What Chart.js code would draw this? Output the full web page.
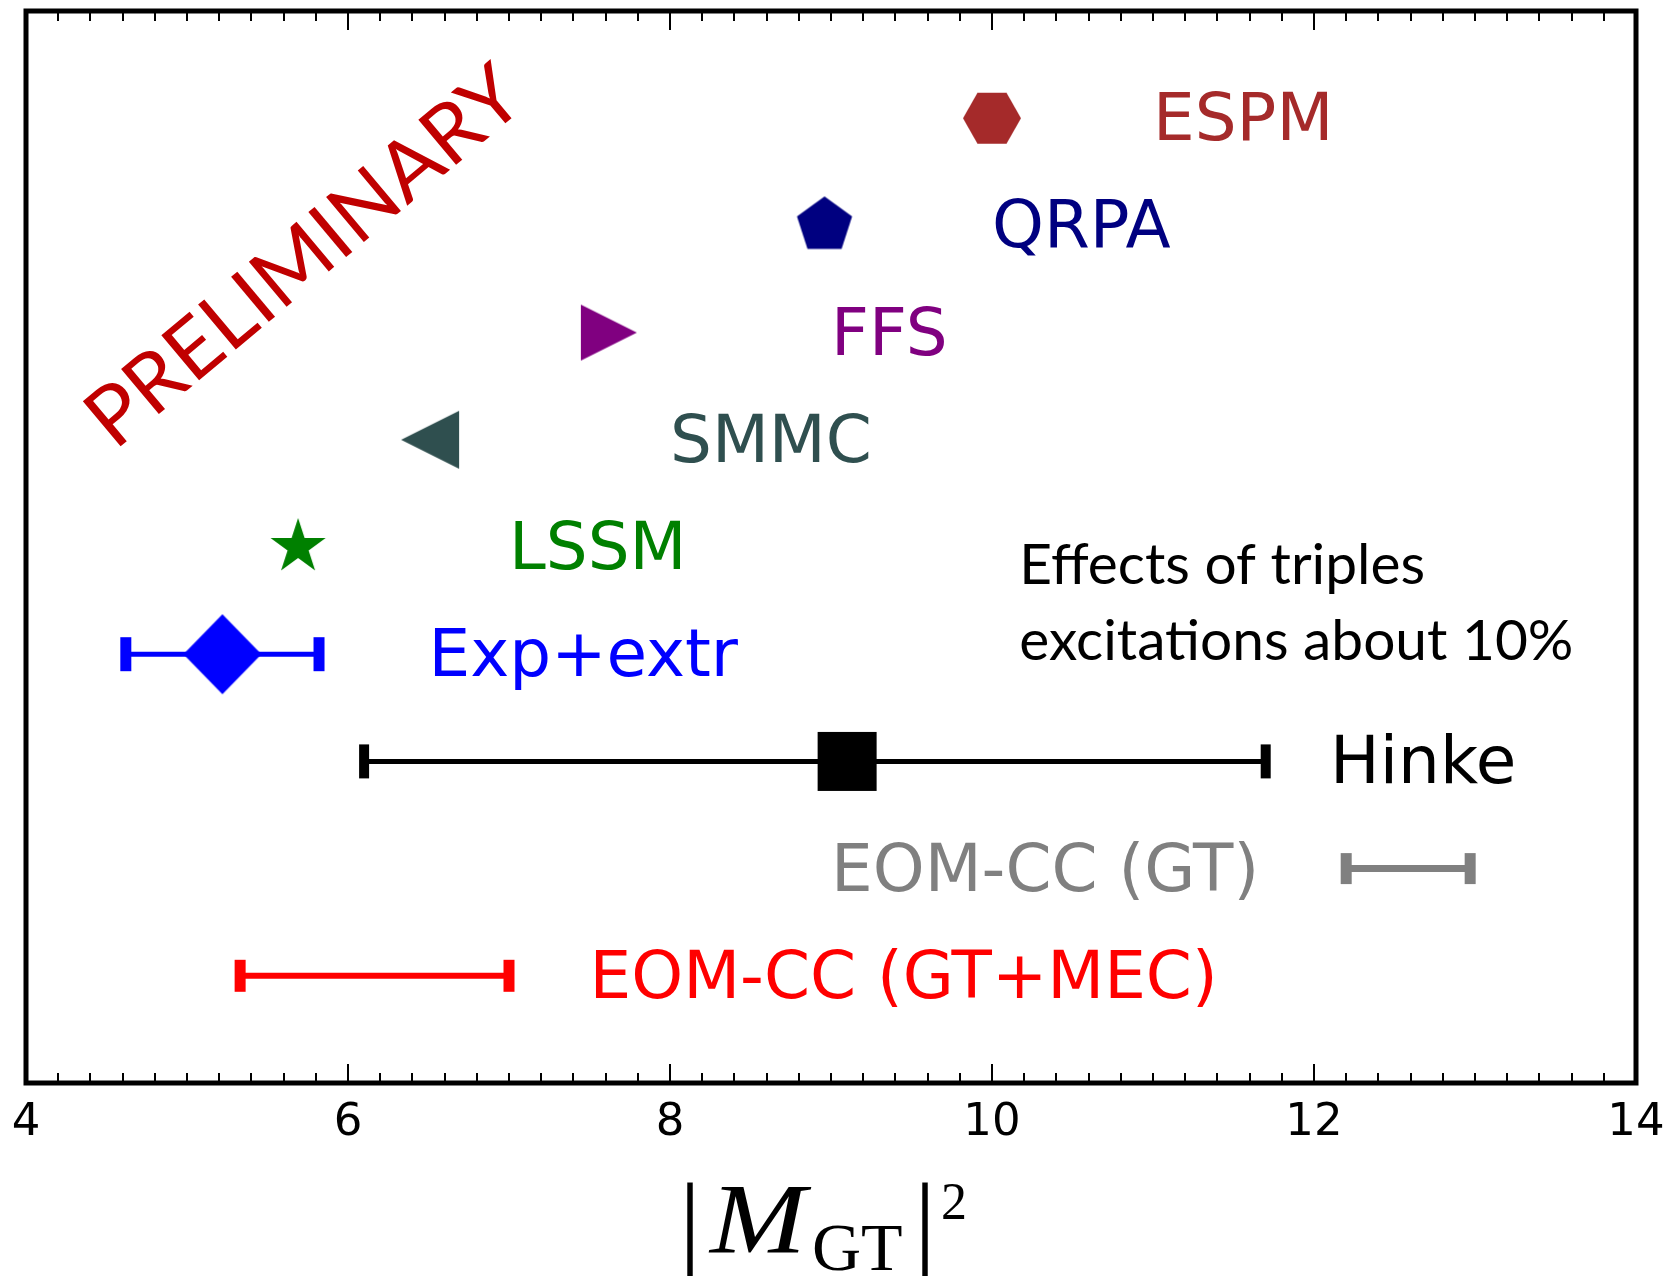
<!DOCTYPE html>
<html>
<head>
<meta charset="utf-8">
<script src="https://cdn.jsdelivr.net/npm/chart.js@4.4.1/dist/chart.umd.min.js"></script>
<style>
html,body{margin:0;padding:0;background:#fff;}
canvas{display:block;}
</style>
</head>
<body>
<canvas id="c" width="1671" height="1276"></canvas>
<script>
// ---------------- data ----------------
const categories = ['ESPM', 'QRPA', 'FFS', 'SMMC', 'LSSM', 'Exp+extr', 'Hinke', 'EOM-CC (GT)', 'EOM-CC (GT+MEC)'];
const rowLevels = [9, 8, 7, 6, 5, 4, 3, 2, 1];
const centralValues = [10.0, 8.96, 7.62, 6.51, 5.69, 5.22, 9.10, null, null];
const errorLow = [null, null, null, null, null, 4.62, 6.10, 12.20, 5.33];
const errorHigh = [null, null, null, null, null, 5.82, 11.70, 12.97, 7.00];
const xTickValues = [4, 6, 8, 10, 12, 14];
const noteLines = ['Effects of triples', 'excitations about 10%'];
const watermarkText = 'PRELIMINARY';

// ---------------- styles / layout ----------------
const seriesColors = ['#a52a2a', '#000080', '#800080', '#2f4f4f', '#008000', '#0000ff', '#000000', '#808080', '#ff0000'];
const markerSpecs = [
  { shape: 'hexagon', w: 58, h: 51 },
  { shape: 'pentagon', r: 29 },
  { shape: 'triRight', w: 56, h: 56 },
  { shape: 'triLeft', w: 58, h: 58 },
  { shape: 'star', r: 29 },
  { shape: 'diamond', w: 78, h: 80 },
  { shape: 'square', w: 59, h: 59 },
  null, null
];
const errStyles = [null, null, null, null, null,
  { line: 5, capW: 11, capH: 34 },
  { line: 5, capW: 10, capH: 34 },
  { line: 7, capW: 11, capH: 31 },
  { line: 6, capW: 11, capH: 32 }];
const labelAnchorX = [11.0, 10.0, 9.0, 8.0, 7.0, 6.5, 12.1, 9.0, 7.5];

function makeMarker(spec, color) {
  let W, H;
  if (spec.r) { W = H = Math.ceil(spec.r * 2 + 4); }
  else { W = Math.ceil(spec.w + 4); H = Math.ceil(spec.h + 4); }
  const c = document.createElement('canvas');
  c.width = W; c.height = H;
  const g = c.getContext('2d');
  g.translate(W / 2, H / 2);
  g.beginPath();
  const s = spec;
  if (s.shape === 'hexagon') {
    g.moveTo(-s.w / 2, 0); g.lineTo(-s.w / 4, -s.h / 2); g.lineTo(s.w / 4, -s.h / 2);
    g.lineTo(s.w / 2, 0); g.lineTo(s.w / 4, s.h / 2); g.lineTo(-s.w / 4, s.h / 2);
  } else if (s.shape === 'pentagon') {
    for (let k = 0; k < 5; k++) {
      const a = (-90 + 72 * k) * Math.PI / 180;
      const px = s.r * Math.cos(a), py = s.r * Math.sin(a);
      k === 0 ? g.moveTo(px, py) : g.lineTo(px, py);
    }
  } else if (s.shape === 'star') {
    for (let k = 0; k < 10; k++) {
      const a = (-90 + 36 * k) * Math.PI / 180;
      const rr = k % 2 === 0 ? s.r : s.r * 0.381966;
      const px = rr * Math.cos(a), py = rr * Math.sin(a);
      k === 0 ? g.moveTo(px, py) : g.lineTo(px, py);
    }
  } else if (s.shape === 'triRight') {
    g.moveTo(s.w / 2, 0); g.lineTo(-s.w / 2, -s.h / 2); g.lineTo(-s.w / 2, s.h / 2);
  } else if (s.shape === 'triLeft') {
    g.moveTo(-s.w / 2, 0); g.lineTo(s.w / 2, -s.h / 2); g.lineTo(s.w / 2, s.h / 2);
  } else if (s.shape === 'diamond') {
    g.moveTo(0, -s.h / 2); g.lineTo(s.w / 2, 0); g.lineTo(0, s.h / 2); g.lineTo(-s.w / 2, 0);
  } else if (s.shape === 'square') {
    g.rect(-s.w / 2, -s.h / 2, s.w, s.h);
  }
  g.closePath();
  g.fillStyle = color;
  g.fill();
  return c;
}

// ---------------- datasets ----------------
const datasets = [];
categories.forEach((name, i) => {
  if (centralValues[i] !== null && markerSpecs[i]) {
    datasets.push({
      type: 'scatter',
      label: name,
      data: [{ x: centralValues[i], y: rowLevels[i] }],
      pointStyle: makeMarker(markerSpecs[i], seriesColors[i]),
      pointRadius: 5,
      order: 0
    });
  }
});
categories.forEach((name, i) => {
  if (errorLow[i] !== null) {
    const st = errStyles[i];
    datasets.push({
      type: 'line',
      label: name + ' range',
      data: [{ x: errorLow[i], y: rowLevels[i] }, { x: errorHigh[i], y: rowLevels[i] }],
      borderColor: seriesColors[i],
      borderWidth: st.line,
      fill: false,
      tension: 0,
      pointStyle: 'line',
      pointRotation: 90,
      pointRadius: st.capH / 2,
      pointBorderWidth: st.capW,
      pointBorderColor: seriesColors[i],
      pointBackgroundColor: seriesColors[i],
      order: 1
    });
  }
});

// ---------------- plugins ----------------
const textPlugin = {
  id: 'textPlugin',
  afterDatasetsDraw(chart) {
    const { ctx, scales: { x, y } } = chart;
    ctx.save();
    // category labels
    const fs = 66;
    ctx.font = fs + 'px "DejaVu Sans"';
    ctx.textAlign = 'left';
    ctx.textBaseline = 'alphabetic';
    categories.forEach((name, i) => {
      ctx.fillStyle = seriesColors[i];
      ctx.fillText(name, x.getPixelForValue(labelAnchorX[i]), y.getPixelForValue(rowLevels[i]) + 22);
    });
    // note
    ctx.fillStyle = '#000';
    ctx.font = '56px Lato';
    const target = 554;
    const wNote = ctx.measureText(noteLines[1]).width;
    const sx = target / wNote;
    const noteX = x.getPixelForValue(10.17);
    [4.655, 3.946].forEach((lv, k) => {
      ctx.save();
      ctx.translate(noteX, y.getPixelForValue(lv));
      ctx.scale(sx, 1);
      ctx.fillText(noteLines[k], 0, 0);
      ctx.restore();
    });
    // watermark
    ctx.save();
    ctx.fillStyle = '#c00000';
    ctx.font = '82px Lato';
    const wW = ctx.measureText(watermarkText).width;
    ctx.translate(x.getPixelForValue(5.72), y.getPixelForValue(7.72));
    ctx.rotate(-40 * Math.PI / 180);
    ctx.scale(540 / wW, 1);
    ctx.textAlign = 'center';
    ctx.fillText(watermarkText, 0, 29);
    ctx.restore();
    ctx.restore();
  }
};

const framePlugin = {
  id: 'framePlugin',
  afterDraw(chart) {
    const { ctx, chartArea: a, scales: { x } } = chart;
    ctx.save();
    ctx.strokeStyle = '#000';
    ctx.lineWidth = 2;
    for (let k = 0; k <= 50; k++) {
      const v = 4 + k * 0.2;
      const px = Math.round(x.getPixelForValue(v));
      const major = k % 10 === 0;
      const len = major ? 19 : 10;
      ctx.beginPath();
      ctx.moveTo(px, a.bottom); ctx.lineTo(px, a.bottom - len);
      ctx.moveTo(px, a.top); ctx.lineTo(px, a.top + len);
      ctx.stroke();
    }
    ctx.lineWidth = 5;
    ctx.strokeRect(a.left, a.top, a.right - a.left, a.bottom - a.top);

    // axis title |M_GT|^2
    const cx = (a.left + a.right) / 2;
    const base = a.bottom + 169;
    ctx.fillStyle = '#000';
    ctx.textBaseline = 'alphabetic';
    ctx.textAlign = 'left';
    ctx.font = '110px "Liberation Serif"';
    const barW = ctx.measureText('|').width;
    ctx.fillText('|', cx - 141 - barW / 2, base + 8);
    ctx.fillText('|', cx + 94 - barW / 2, base + 8);
    ctx.save();
    ctx.font = 'italic 99px "Liberation Serif"';
    const mW = ctx.measureText('M').width;
    ctx.translate(cx - 121, base);
    ctx.scale(96 / mW, 1);
    ctx.fillText('M', 0, 0);
    ctx.restore();
    ctx.font = '68px "Liberation Serif"';
    ctx.fillText('GT', cx - 19, base + 18);
    ctx.font = '52px "Liberation Serif"';
    ctx.fillText('2', cx + 110, base - 33);
    ctx.restore();
  }
};

new Chart(document.getElementById('c'), {
  data: { datasets },
  options: {
    responsive: false,
    devicePixelRatio: 1,
    animation: false,
    events: [],
    layout: { autoPadding: false, padding: { left: 26, right: 35, top: 11, bottom: 0 } },
    plugins: { legend: { display: false }, tooltip: { enabled: false }, title: { display: false } },
    scales: {
      x: {
        type: 'linear', min: 4, max: 14, position: 'bottom',
        afterBuildTicks: (s) => { s.ticks = xTickValues.map(v => ({ value: v })); },
        ticks: { font: { family: 'DejaVu Sans', size: 45 }, color: '#000', padding: 13, maxRotation: 0, autoSkip: false },
        grid: { display: false, drawTicks: false },
        border: { display: false },
        afterFit: (s) => { s.height = 193; s.paddingLeft = 0; s.paddingRight = 0; }
      },
      y: { type: 'linear', min: 0, max: 10, display: false }
    }
  },
  plugins: [textPlugin, framePlugin]
});
</script>
</body>
</html>
